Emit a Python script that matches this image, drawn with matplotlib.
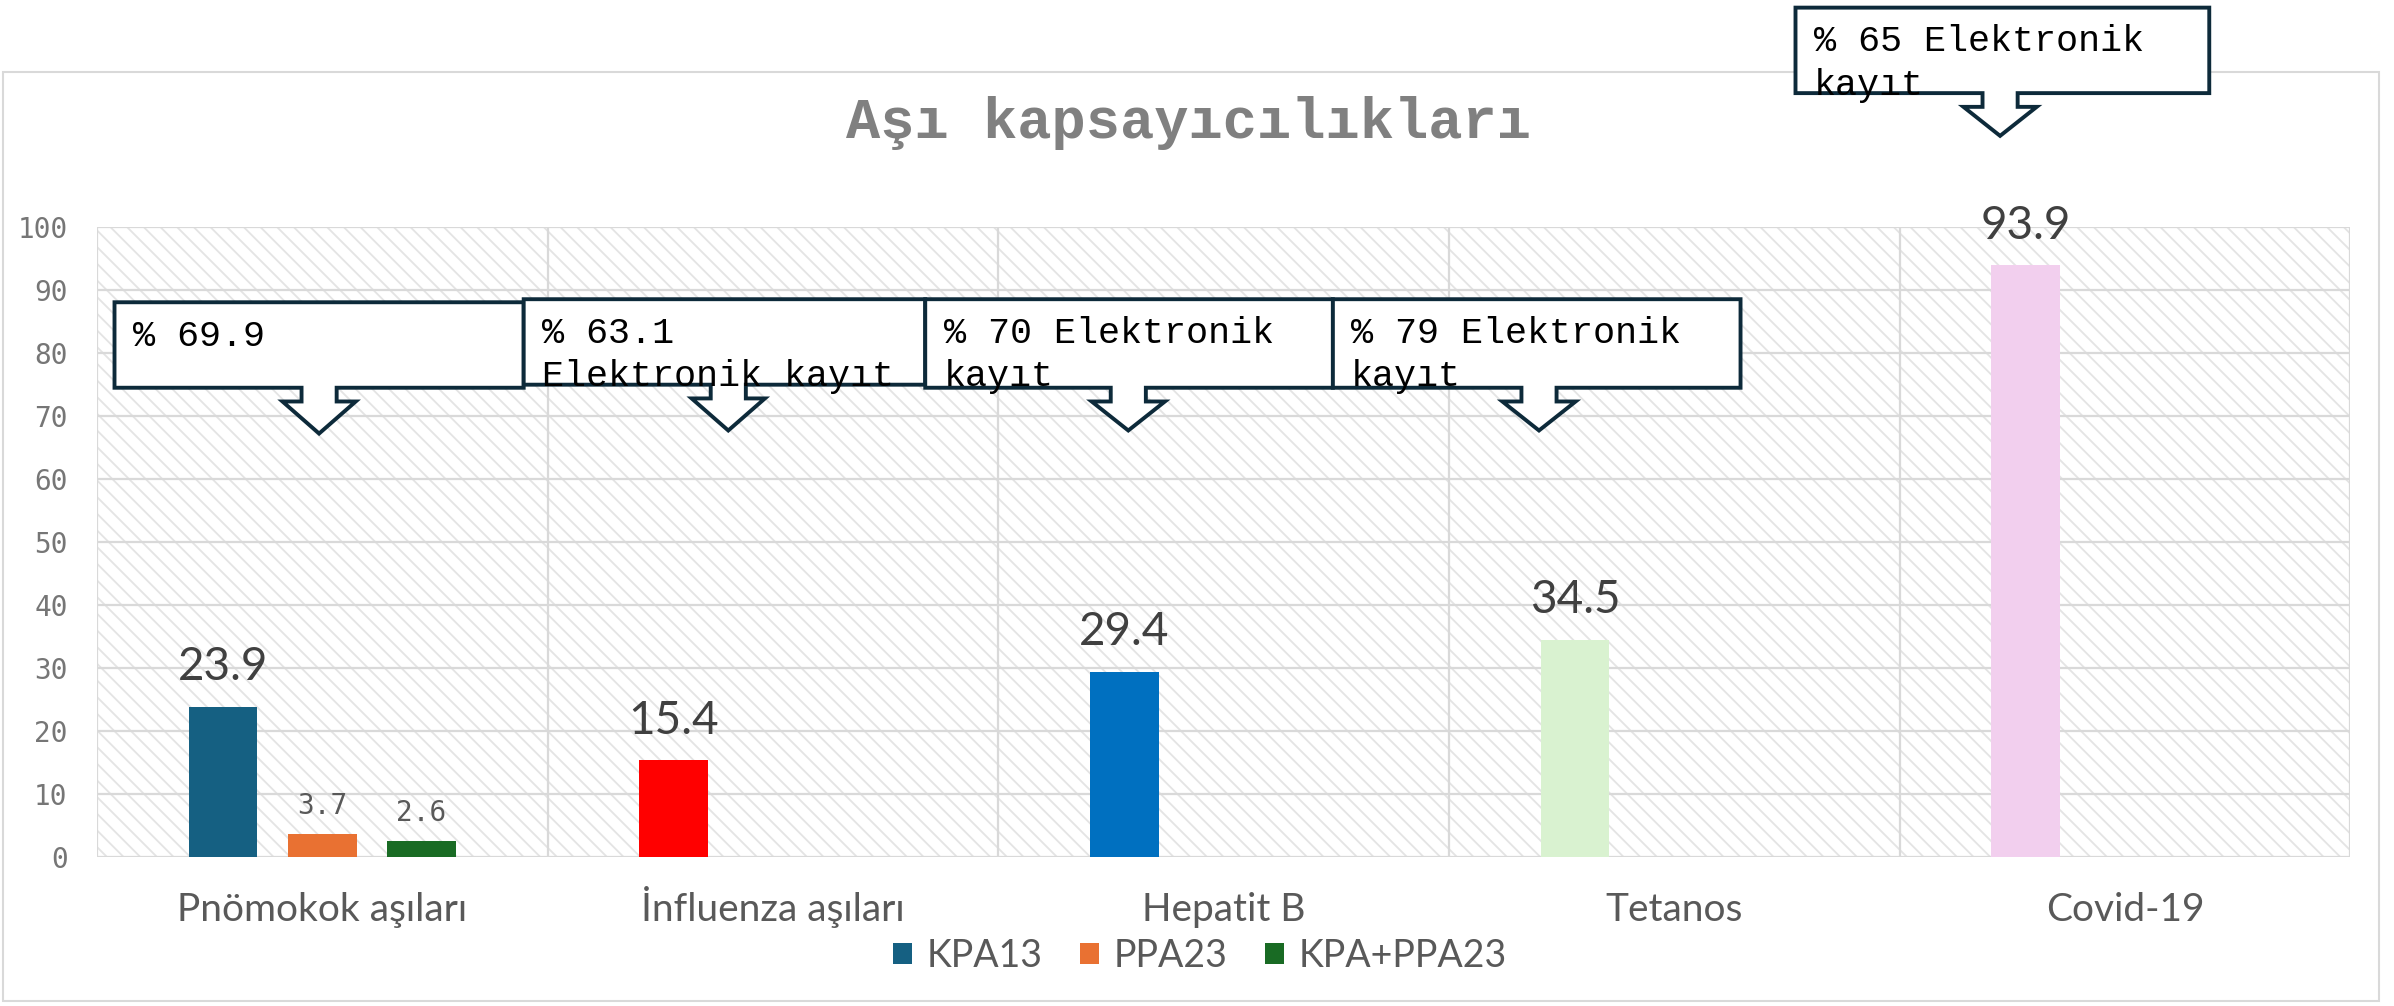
import matplotlib
matplotlib.use("Agg")
import matplotlib.pyplot as plt
from matplotlib.patches import Rectangle, Polygon, Patch
import numpy as np

# ---------------- data ----------------
categories = ["Pnömokok aşıları", "İnfluenza aşıları", "Hepatit B", "Tetanos", "Covid-19"]
series_names = ["KPA13", "PPA23", "KPA+PPA23"]
kpa13 = [23.9, 15.4, 29.4, 34.5, 93.9]
ppa23 = [3.7, None, None, None, None]
kpa_ppa23 = [2.6, None, None, None, None]
yticks = list(range(0, 101, 10))
title = "Aşı kapsayıcılıkları"
callout_texts = [
    ["% 69.9"],
    ["% 63.1", "Elektronik kayıt"],
    ["% 70 Elektronik", "kayıt"],
    ["% 79 Elektronik", "kayıt"],
    ["% 65 Elektronik", "kayıt"],
]

# ---------------- styles ----------------
series_colors = ["#156082", "#E97132", "#196B24"]
kpa13_point_colors = ["#156082", "#FF0000", "#0070C0", "#D9F2D0", "#F2CFEE"]
grid_color = "#D9D9D9"
sans = ["Lato", "DejaVu Sans"]
mono = ["DejaVu Sans Mono"]
courier = ["Liberation Mono", "DejaVu Sans Mono"]

W, H = 1568.0, 659.0  # layout reference units


def fx(x):
    return x / W


def fy(y):
    return 1 - y / H


fig = plt.figure(figsize=(23.94, 10.06), dpi=100)
fig.patch.set_facecolor("white")

# outer chart border
fig.add_artist(Rectangle((fx(2), fy(656)), fx(1558) - fx(2), fy(47) - fy(656),
                         transform=fig.transFigure, facecolor="none",
                         edgecolor=grid_color, linewidth=1.5, zorder=0))

left, right, top, bottom = 63.4, 1539.4, 148.6, 561.5
ax = fig.add_axes([fx(left), fy(bottom), fx(right) - fx(left), fy(top) - fy(bottom)])
ax.set_xlim(-0.5, len(categories) - 0.5)
ax.set_ylim(0, 100)
for s in ax.spines.values():
    s.set_visible(False)

# hatched background
plt.rcParams["hatch.linewidth"] = 1.3
bg = Rectangle((0, 0), 1, 1, transform=ax.transAxes, facecolor="white",
               edgecolor="#E4E4E4", hatch="\\\\", linewidth=0, zorder=0)
ax.add_patch(bg)

# gridlines
for yv in yticks:
    ax.axhline(yv, color=grid_color, linewidth=1.6, zorder=0.5)
for xv in np.arange(-0.5, len(categories), 1.0):
    ax.axvline(xv, color=grid_color, linewidth=1.6, zorder=0.5)

x = np.arange(len(categories))
bw = 0.1525
off = 0.22

ax.bar(x - off, kpa13, width=bw, color=kpa13_point_colors, zorder=2)
for xi, v in zip(x, kpa13):
    ax.annotate(f"{v}", (xi - off, v), xytext=(0, 19), textcoords="offset points",
                ha="center", va="baseline", fontsize=33, family=sans, color="#404040")

for ser, dx, col in [(ppa23, 0.0, series_colors[1]), (kpa_ppa23, off, series_colors[2])]:
    for xi, v in zip(x, ser):
        if v is None:
            continue
        ax.bar(xi + dx, v, width=bw, color=col, zorder=2)
        ax.annotate(f"{v}", (xi + dx, v), xytext=(0, 14), textcoords="offset points",
                    ha="center", va="baseline", fontsize=20, family=mono, color="#595959")

ax.set_yticks(yticks)
ax.set_yticklabels([str(t) for t in yticks], family=mono, fontsize=20, color="#767676")
ax.set_xticks(x)
ax.set_xticklabels(categories, family=sans, fontsize=28, color="#595959", va="baseline")
ax.tick_params(axis="y", length=0, pad=21)
ax.tick_params(axis="x", length=0, pad=46)

# title
fig.text(fx(778.5), fy(90.6), title, ha="center", va="baseline", fontsize=41,
         fontweight="bold", family=courier, color="#808080")

# legend
handles = [Patch(facecolor=c, edgecolor="none") for c in series_colors]
leg = fig.legend(handles, series_names, loc="center", bbox_to_anchor=(fx(786), fy(626)),
                 ncol=3, frameon=False, prop={"family": sans, "size": 27},
                 handlelength=0.5, handleheight=0.5, handletextpad=0.4, columnspacing=1.0)
for t in leg.get_texts():
    t.set_color("#595959")

# callouts (left, right, top, bottom, tip_x, tip_y) in layout units
callout_boxes = [
    (75, 343, 198, 254, 209, 284),
    (343, 606, 196, 252, 477, 282),
    (606, 873, 196, 254, 739, 282),
    (873, 1140, 196, 254, 1008, 282),
    (1176, 1447, 5, 61, 1310, 89),
]
shaft_hw = 11.5
head_hw = 24
shaft_len = 9
for (L, R, T, B, tx, ty), lines in zip(callout_boxes, callout_texts):
    pts = [(L, T), (R, T), (R, B), (tx + shaft_hw, B), (tx + shaft_hw, B + shaft_len),
           (tx + head_hw, B + shaft_len), (tx, ty), (tx - head_hw, B + shaft_len),
           (tx - shaft_hw, B + shaft_len), (tx - shaft_hw, B), (L, B)]
    poly = Polygon([(fx(px), fy(py)) for px, py in pts], closed=True,
                   transform=fig.transFigure, facecolor="white", edgecolor="#0D2A3A",
                   linewidth=2.8, joinstyle="miter", zorder=5)
    fig.add_artist(poly)
    for i, line in enumerate(lines):
        fig.text(fx(L + 12), fy(T + 28.5 + 28.5 * i), line, ha="left", va="baseline",
                 fontsize=26.5, family=courier, color="black", zorder=6)

fig.savefig("out.png", dpi=100, facecolor="white")
